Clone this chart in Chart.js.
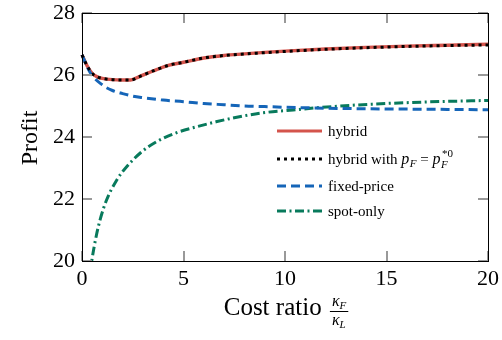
<!DOCTYPE html>
<html>
<head>
<meta charset="utf-8">
<script src="https://cdn.jsdelivr.net/npm/chart.js@4/dist/chart.umd.min.js"></script>
<style>
html,body{margin:0;padding:0;background:#fff;}
canvas{display:block;}
</style>
</head>
<body>
<canvas id="c" width="502" height="340"></canvas>
<script>
// ---- data ----
const xHybrid = [0,0.25,0.5,0.75,1,1.5,2,2.4,2.8,3.5,4.3,5,6,7,8,9,10,12,14,16,18,20];
const hybrid  = [26.65,26.3,26.05,25.94,25.89,25.85,25.84,25.84,25.94,26.13,26.32,26.41,26.55,26.63,26.68,26.73,26.77,26.84,26.89,26.93,26.96,26.99];
const hybridFixedP = [26.65,26.3,26.05,25.94,25.89,25.85,25.84,25.84,25.94,26.13,26.32,26.41,26.55,26.63,26.68,26.72,26.76,26.83,26.88,26.92,26.95,26.97];
const xFixed = [0,0.4,1,1.5,2,2.5,3,4,5,6,7,8,9,10,12,14,16,18,20];
const fixedPrice = [26.65,26.08,25.68,25.5,25.4,25.32,25.27,25.19,25.14,25.08,25.04,25.0,24.98,24.96,24.93,24.91,24.9,24.89,24.88];
const xSpot = [0.4,0.48,0.7,0.9,1.2,1.7,2.2,2.9,3.7,4.7,5.7,6.6,7.5,8.9,10.4,11.7,14.3,17,20];
const spotOnly = [19.6,20.0,20.8,21.35,21.95,22.6,23.04,23.5,23.86,24.15,24.34,24.49,24.62,24.78,24.87,24.95,25.06,25.13,25.18];
const xTicks = [0,5,10,15,20];
const yTicks = [20,22,24,26,28];

const RED = '#d4544c', BLUE = '#1565b8', GREEN = '#087a5c';
const SERIF = '"Liberation Serif", "DejaVu Serif", serif';

function pts(xs, ys){ return xs.map((x,i)=>({x:x, y:ys[i]})); }

const legendItems = [
  {label:'hybrid', color:RED, dash:[]},
  {label:'math', color:'#000', dash:[3,4]},
  {label:'fixed-price', color:BLUE, dash:[9,5]},
  {label:'spot-only', color:GREEN, dash:[9,3.5,2,3.5]}
];

function drawFrame(chart){
  const ctx = chart.ctx, a = chart.chartArea, sx = chart.scales.x, sy = chart.scales.y;
  ctx.save();
  ctx.globalAlpha = 1;
  ctx.globalCompositeOperation = 'source-over';
  ctx.fillStyle = '#999999';
  const L = 10;
  const l = Math.round(a.left), r = Math.round(a.right), t = Math.round(a.top), b = Math.round(a.bottom);
  yTicks.forEach(function(v){
    const y = Math.round(sy.getPixelForValue(v));
    ctx.fillRect(l, y - 1, L, 2);
    ctx.fillRect(r - L, y - 1, L, 2);
  });
  xTicks.forEach(function(v){
    const x = Math.round(sx.getPixelForValue(v));
    ctx.fillRect(x - 1, b - L, 2, L);
    ctx.fillRect(x - 1, t, 2, L);
  });
  ctx.fillStyle = '#000';
  ctx.fillRect(l, t, r - l + 1, 1);
  ctx.fillRect(l, b, r - l + 1, 1);
  ctx.fillRect(l, t, 1, b - t + 1);
  ctx.fillRect(r, t, 1, b - t + 1);
  ctx.restore();
}

const deco = {
  id:'deco',
  afterDatasetsDraw(chart){ drawFrame(chart); },
  afterDraw(chart){
    const ctx = chart.ctx, a = chart.chartArea;
    ctx.save();
    ctx.fillStyle = '#000';
    ctx.textBaseline = 'alphabetic';
    // legend
    const rows = [131, 159, 186, 211];
    legendItems.forEach((it, i)=>{
      const y = rows[i];
      ctx.save();
      ctx.strokeStyle = it.color; ctx.lineWidth = 3; ctx.lineCap = 'butt';
      ctx.setLineDash(it.dash);
      ctx.beginPath(); ctx.moveTo(277, y); ctx.lineTo(322, y); ctx.stroke();
      ctx.restore();
      let x = 328; const base = y + 4.5;
      if (it.label !== 'math') {
        ctx.font = '15px ' + SERIF; ctx.fillText(it.label, x, base);
      } else {
        ctx.font = '15px ' + SERIF; ctx.fillText('hybrid with ', x, base); x += ctx.measureText('hybrid with ').width;
        ctx.font = 'italic 16px ' + SERIF; ctx.fillText('p', x, base); x += ctx.measureText('p').width + 0.5;
        ctx.font = 'italic 11px ' + SERIF; ctx.fillText('F', x, base+3); x += ctx.measureText('F').width;
        ctx.font = '15px ' + SERIF; ctx.fillText(' = ', x, base); x += ctx.measureText(' = ').width;
        ctx.font = 'italic 16px ' + SERIF; ctx.fillText('p', x, base); x += ctx.measureText('p').width + 0.5;
        ctx.font = 'italic 11px ' + SERIF; ctx.fillText('F', x, base+4);
        ctx.font = '11px ' + SERIF; ctx.fillText('*0', x+1, base-7);
      }
    });
    // x title
    const cx = (a.left + a.right)/2;
    ctx.font = '25px ' + SERIF;
    const t1 = 'Cost ratio ';
    const w1 = ctx.measureText(t1).width;
    ctx.font = 'italic 16px ' + SERIF; const wk = ctx.measureText('κ').width;
    ctx.font = 'italic 11px ' + SERIF; const wF = ctx.measureText('F').width; const wL = ctx.measureText('L').width;
    const fw = wk + Math.max(wF, wL) + 4;
    let x0 = cx - (w1 + fw)/2;
    const bl = 315;
    ctx.font = '25px ' + SERIF; ctx.fillText(t1, x0, bl);
    let fx = x0 + w1 + 2;
    ctx.fillRect(fx, 311, fw, 1);
    ctx.font = 'italic 16px ' + SERIF; ctx.fillText('κ', fx+2, 306);
    ctx.font = 'italic 11px ' + SERIF; ctx.fillText('F', fx+2+wk, 309);
    ctx.font = 'italic 16px ' + SERIF; ctx.fillText('κ', fx+2, 325);
    ctx.font = 'italic 11px ' + SERIF; ctx.fillText('L', fx+2+wk, 328);
    // y title
    ctx.save();
    ctx.translate(37, 138);
    ctx.rotate(-Math.PI/2);
    ctx.textAlign = 'center';
    ctx.font = '24px ' + SERIF;
    ctx.fillText('Profit', 0, 0);
    ctx.restore();
    ctx.restore();
  }
};

const common = {fill:false, pointRadius:0, borderWidth:3, cubicInterpolationMode:'monotone', borderCapStyle:'butt', clip:{left:4, right:4, top:4, bottom:0}};

new Chart(document.getElementById('c'), {
  type:'line',
  data:{
    datasets:[
      Object.assign({}, common, {label:'hybrid with pF', data:pts(xHybrid, hybridFixedP), borderColor:'#000', borderDash:[3,4]}),
      Object.assign({}, common, {label:'fixed-price', data:pts(xFixed, fixedPrice), borderColor:BLUE, borderDash:[9,5]}),
      Object.assign({}, common, {label:'spot-only', data:pts(xSpot, spotOnly), borderColor:GREEN, borderDash:[9,3.5,2,3.5]}),
      Object.assign({}, common, {label:'hybrid', data:pts(xHybrid, hybrid), borderColor:RED, borderWidth:3.4})
    ]
  },
  options:{
    responsive:false, animation:false, devicePixelRatio:1,
    layout:{padding:{top:13, right:14, left:0, bottom:0}},
    plugins:{legend:{display:false}, tooltip:{enabled:false}},
    scales:{
      x:{type:'linear', min:0, max:20,
         afterBuildTicks(s){ s.ticks = xTicks.map(v=>({value:v})); },
         afterFit(s){ s.height = 79; s.paddingLeft = 0; s.paddingRight = 0; },
         grid:{display:false, drawTicks:false}, border:{display:false},
         ticks:{color:'#000', font:{family:SERIF, size:22}, padding:5, maxRotation:0}},
      y:{type:'linear', min:20, max:28,
         afterBuildTicks(s){ s.ticks = yTicks.map(v=>({value:v})); },
         afterFit(s){ s.width = 82; s.paddingTop = 0; s.paddingBottom = 0; },
         grid:{display:false, drawTicks:false}, border:{display:false},
         ticks:{color:'#000', font:{family:SERIF, size:22}, padding:7}}
    }
  },
  plugins:[deco]
});
</script>
</body>
</html>
